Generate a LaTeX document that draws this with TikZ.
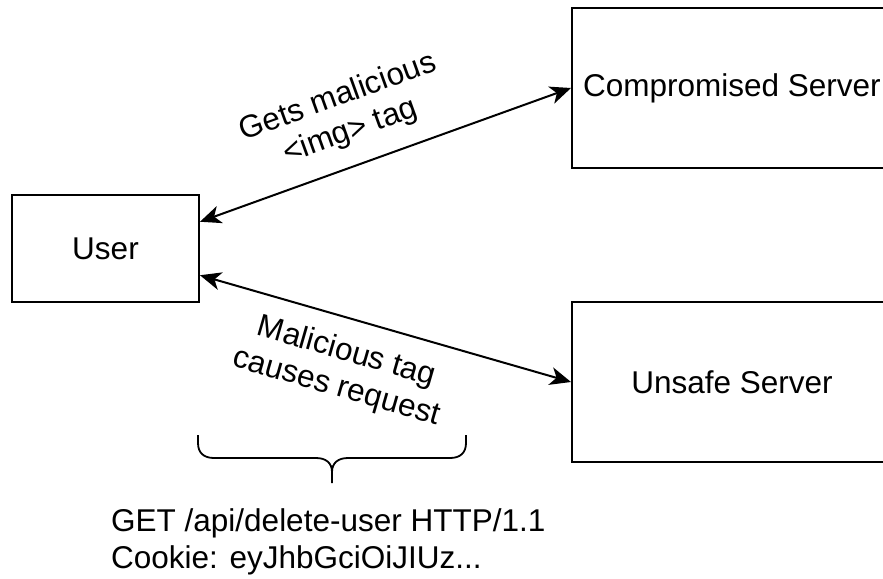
\documentclass[tikz,border=0pt]{standalone}
\usepackage{fontspec}
\setmainfont{Liberation Sans}
\usetikzlibrary{arrows.meta}

\begin{document}
\begin{tikzpicture}[x=1pt,y=-1pt,
    every node/.style={font=\fontsize{31.5}{36.5}\selectfont},
    box/.style={draw, line width=2pt, minimum width=#1, minimum height=160pt},
    link/.style={line width=2pt, {Stealth[length=21pt,width=18pt,inset=6pt]}-{Stealth[length=21pt,width=18pt,inset=6pt]}},
    lbl/.style={sloped, align=center}]
  \clip (0,0) rectangle (883,578);
  \draw
  (105.5,248.5) node[box=187pt, minimum height=107pt] (U) {User}
  (732,88) node[box=320pt] (CS) {Compromised Server}
  (732,382) node[box=320pt] (US) {Unsafe Server}
  (111,542) node[anchor=west, align=left, inner sep=0pt] (R) {GET /api/delete-user HTTP/1.1\\Cookie: eyJhbGciOiJIUz...};
  \coordinate (BL) at (198,435);
  \coordinate (BT) at (332,483);
  \coordinate (BR) at (466,435);
  \draw[link] ([yshift=26.75pt]U.east) -- (CS.west) node[lbl, pos=0.436, yshift=51.6pt] (L1) {Gets malicious\\<img> tag};
  \draw[link] ([yshift=-26.75pt]U.east) -- (US.west) node[lbl, pos=0.42, yshift=-52pt] (L2) {Malicious tag\\causes request};
  \draw[line width=1.8pt]
  (BL) -- (198,443) .. controls (198,453) and (204,458) .. (214,458) -- (316,458)
  .. controls (326,458) and (332,463) .. (332,472) -- (BT)
  (332,472) .. controls (332,463) and (338,458) .. (348,458) -- (450,458)
  .. controls (460,458) and (466,453) .. (466,443) -- (BR);
\end{tikzpicture}
\end{document}
